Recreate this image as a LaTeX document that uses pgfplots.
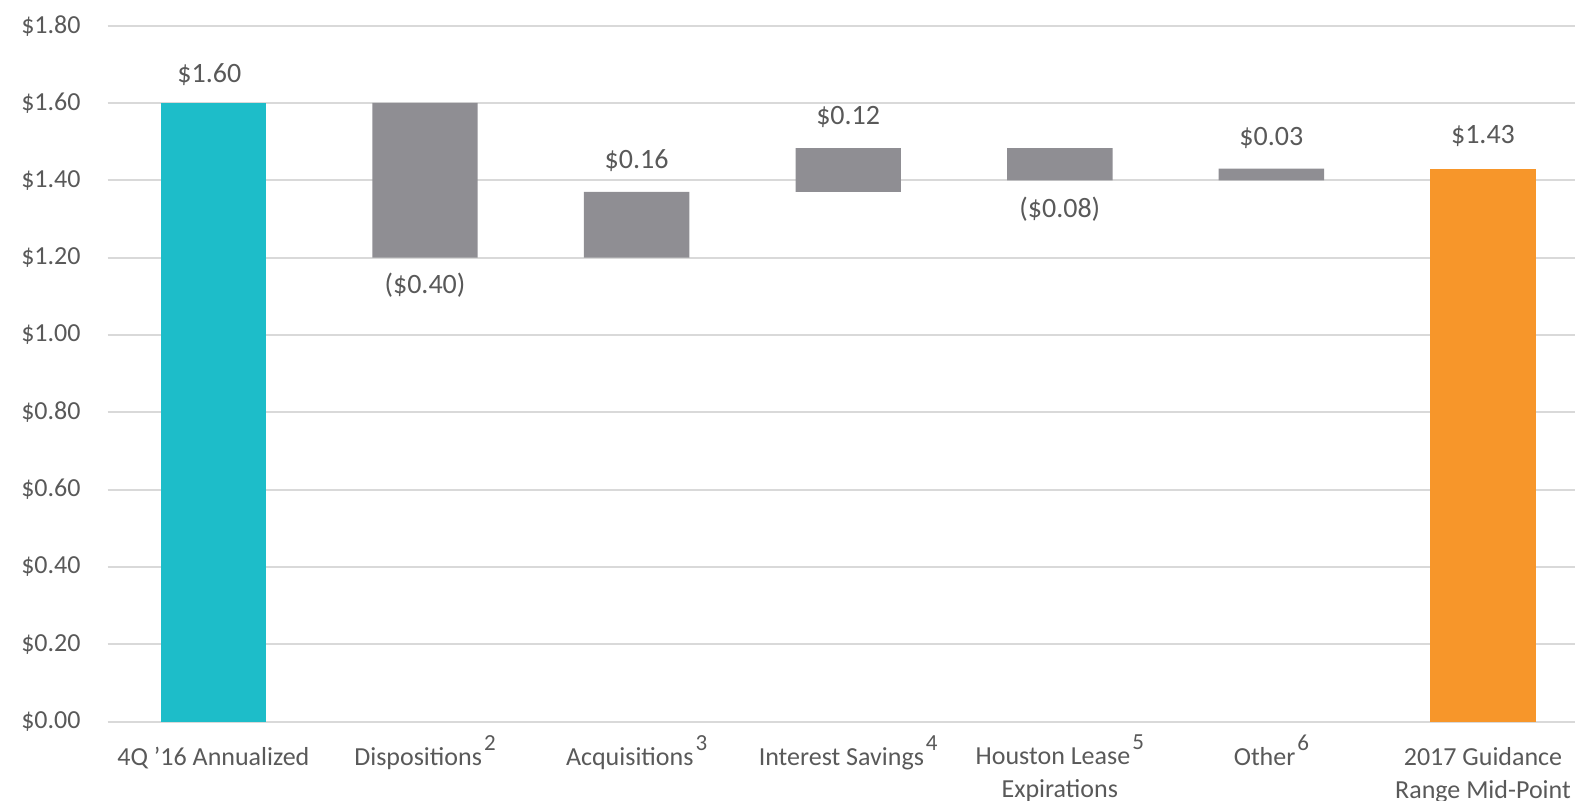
\documentclass[border=0pt]{standalone}
\usepackage{pgfplots}
\pgfplotsset{compat=1.18}
\usepackage{fontspec}
\setmainfont{Carlito}
\definecolor{tealbar}{RGB}{29,189,201}
\definecolor{orangebar}{RGB}{247,150,42}
\definecolor{graybar}{RGB}{143,142,147}
\definecolor{txt}{RGB}{89,89,89}
\definecolor{gridc}{RGB}{217,217,217}
\tikzset{dlab/.style={text=txt, font=\fontsize{14}{16}\selectfont}}
\newcommand\sups[1]{\kern1pt\smash{\raisebox{7.5pt}{\fontsize{11.5}{12}\selectfont #1}}}
\begin{document}
\begin{tikzpicture}
\begin{axis}[
  at={(53.8pt,39.7pt)}, anchor=south west,
  scale only axis, width=740.6pt, height=348pt,
  xmin=-0.5, xmax=6.5, ymin=0, ymax=1.8,
  ybar stacked, bar width=52.7pt,
  axis line style={draw=none},
  major tick length=0pt,
  ymajorgrids, grid style={draw=gridc, line width=1pt},
  ytick={0,0.2,0.4,0.6,0.8,1.0,1.2,1.4,1.6,1.8},
  /pgf/number format/assume math mode=true,
  yticklabel={\$\pgfmathprintnumber[fixed,fixed zerofill,precision=2]{\tick}},
  yticklabel style={text=txt, font=\fontsize{13}{15}\selectfont, xshift=-10pt},
  xtick={0,1,2,3,4,5,6},
  xticklabels={4Q '16 Annualized, Dispositions\sups{2}, Acquisitions\sups{3}, Interest Savings\sups{4}, {Houston Lease\sups{5}\\Expirations}, Other\sups{6}, {2017 Guidance\\Range Mid-Point}},
  xticklabel style={text=txt, align=center, font=\fontsize{13}{16.5}\selectfont, anchor=north, yshift=-9.5pt},
]
\addplot[fill=white, fill opacity=0, draw=none] coordinates {(0,0) (1,1.20) (2,1.20) (3,1.37) (4,1.40) (5,1.40) (6,0)};
\addplot[fill=tealbar, draw=none] coordinates {(0,1.60) (1,0) (2,0) (3,0) (4,0) (5,0) (6,0)};
\addplot[fill=graybar, draw=none] coordinates {(0,0) (1,0.40) (2,0.17) (3,0.113) (4,0.083) (5,0.03) (6,0)};
\addplot[fill=orangebar, draw=none] coordinates {(0,0) (1,0) (2,0) (3,0) (4,0) (5,0) (6,1.43)};
\node[dlab] at (axis cs:0,1.60) [xshift=-2pt, yshift=14pt] {\$1.60};
\node[dlab] at (axis cs:1,1.20) [yshift=-14pt] {(\$0.40)};
\node[dlab] at (axis cs:2,1.37) [yshift=15.5pt] {\$0.16};
\node[dlab] at (axis cs:3,1.483) [yshift=15.5pt] {\$0.12};
\node[dlab] at (axis cs:4,1.40) [yshift=-14.5pt] {(\$0.08)};
\node[dlab] at (axis cs:5,1.43) [yshift=15.5pt] {\$0.03};
\node[dlab] at (axis cs:6,1.43) [yshift=16.5pt] {\$1.43};
\end{axis}
\pgfresetboundingbox
\useasboundingbox (0,0) rectangle (787.5pt,400.5pt);
\end{tikzpicture}
\end{document}
